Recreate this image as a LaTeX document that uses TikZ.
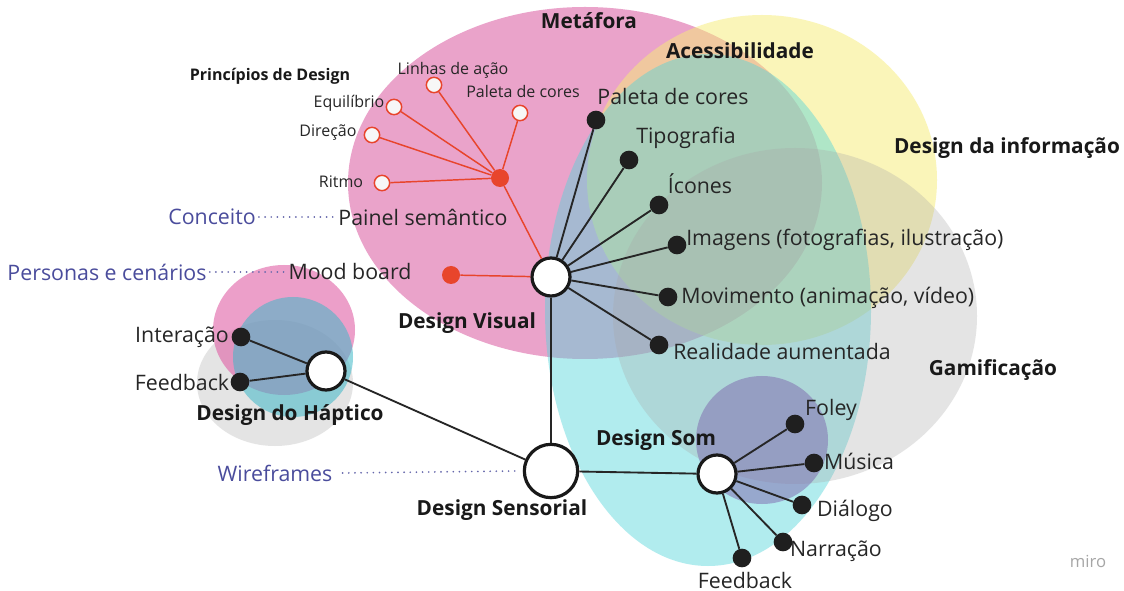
\documentclass[tikz,border=0pt]{standalone}
\usepackage{fontspec}
\setmainfont{Open Sans}
\definecolor{redc}{HTML}{E8452C}
\definecolor{pinkc}{HTML}{DA58A0}
\definecolor{yelc}{HTML}{F7ED75}
\definecolor{cyanc}{HTML}{54D5DA}
\definecolor{grayc}{HTML}{A8A8A8}
\definecolor{purc}{HTML}{7E66AE}
\definecolor{bluet}{HTML}{4A4C9C}
\definecolor{hpink}{HTML}{E05FA5}
\definecolor{hcyan}{HTML}{3FB8C8}
\tikzset{
  hub/.style={circle, draw=black!90, line width=2.4pt, fill=white, minimum size=#1, inner sep=0pt},
  bdot/.style={circle, fill=black!88, minimum size=14pt, inner sep=0pt},
  rdot/.style={circle, fill=redc, minimum size=13.5pt, inner sep=0pt},
  wdot/.style={circle, draw=redc, line width=1.1pt, fill=gray!6, minimum size=11.5pt, inner sep=0pt},
  lbl/.style={font=\fontsize{16}{19}\selectfont, text=black!85, inner sep=0pt},
  slbl/.style={font=\fontsize{12}{14}\selectfont, text=black!85, inner sep=0pt},
  blbl/.style={font=\fontsize{15.6}{18}\selectfont\bfseries, text=black!90, inner sep=0pt},
  sblbl/.style={font=\fontsize{12}{14}\selectfont\bfseries, text=black!90, inner sep=0pt},
  bluel/.style={font=\fontsize{16}{19}\selectfont, text=bluet, inner sep=0pt},
  bline/.style={draw=black!85, line width=1.4pt},
  rline/.style={draw=redc, line width=1.1pt},
  dotl/.style={draw=bluet!85, line width=1.4pt, line cap=round, dash pattern=on 0.01pt off 4.6pt},
}
\begin{document}
\begin{tikzpicture}[x=0.75pt,y=-0.75pt]
\useasboundingbox (0,0) rectangle (1124,591);
\fill[white] (0,0) rectangle (1124,591);
% big cluster blobs
\fill[pinkc, opacity=0.55] (585,183) ellipse [x radius=237, y radius=176];
\fill[yelc, opacity=0.5] (762,180) ellipse [x radius=175, y radius=165];
\fill[cyanc, opacity=0.45] (708,310) ellipse [x radius=163, y radius=256];
\fill[grayc, opacity=0.3] (795,316) ellipse [x radius=182, y radius=168];
\fill[purc, opacity=0.5] (762,440) ellipse [x radius=66, y radius=64];
% haptic blobs
\fill[grayc, opacity=0.3] (275,383) ellipse [x radius=78, y radius=63];
\fill[hpink, opacity=0.6] (284,330) ellipse [x radius=71, y radius=65];
\fill[hcyan, opacity=0.55] (293,357) circle [radius=60];

% hubs
\node[hub=28.5pt] (dv) at (551,277) {};
\node[hub=40pt] (ds) at (551,471) {};
\node[hub=28.5pt] (dh) at (326,371) {};
\node[hub=28.5pt] (dso) at (717,474) {};

% principles (red)
\node[rdot] (rh) at (500,178) {};
\node[rdot] (mb) at (451,275) {};
\node[wdot] (w1) at (434,85) {};
\node[wdot] (w2) at (520,113) {};
\node[wdot] (w3) at (394,107) {};
\node[wdot] (w4) at (372,135) {};
\node[wdot] (w5) at (382,183) {};
\foreach \w in {w1,w2,w3,w4,w5} \draw[rline] (rh) -- (\w);
\draw[rline] (rh) -- (dv);
\draw[rline] (mb) -- (dv);

% visual dots
\node[bdot] (v1) at (596,120) {};
\node[bdot] (v2) at (629,160) {};
\node[bdot] (v3) at (659,205) {};
\node[bdot] (v4) at (677,245) {};
\node[bdot] (v5) at (668,297) {};
\node[bdot] (v6) at (659,345) {};
\foreach \v in {v1,v2,v3,v4,v5,v6} \draw[bline] (dv) -- (\v);

% haptic dots
\node[bdot] (h1) at (241,337) {};
\node[bdot] (h2) at (240,382) {};
\draw[bline] (dh) -- (h1);
\draw[bline] (dh) -- (h2);

% sound dots
\node[bdot] (s1) at (795,424) {};
\node[bdot] (s2) at (814,463) {};
\node[bdot] (s3) at (802,505) {};
\node[bdot] (s4) at (783,542) {};
\node[bdot] (s5) at (742,558) {};
\foreach \s in {s1,s2,s3,s4,s5} \draw[bline] (dso) -- (\s);

\draw[bline] (dv) -- (ds);
\draw[bline] (dh) -- (ds);
\draw[bline] (ds) -- (dso);

% labels
\node[blbl] (tmet) at (589,21) {Metáfora};
\node[blbl] (tace) at (740,51) {Acessibilidade};
\node[blbl] (tdi) at (1007,148) {Design da informação};
\node[blbl] (tgam) at (993,370) {Gamificação};
\node[blbl] (tdv) at (467,323) {Design Visual};
\node[blbl] (tdh) at (290,415) {Design do Háptico};
\node[blbl] (tds) at (502,510) {Design Sensorial};
\node[blbl] (tdso) at (656,440) {Design Som};
\node[sblbl] (tpd) at (270,76) {Princípios de Design};

\node[slbl] (l1) at (453,70) {Linhas de ação};
\node[slbl] (l2) at (523,92) {Paleta de cores};
\node[slbl] (l3) at (349,103) {Equilíbrio};
\node[slbl] (l4) at (328,133) {Direção};
\node[slbl] (l5) at (341,182) {Ritmo};

\node[lbl] (painel) at (423,217) {Painel semântico};
\node[lbl] (mood) at (350,272) {Mood board};
\node[bluel] (conc) at (212,217) {Conceito};
\node[bluel] (pers) at (107,272) {Personas e cenários};
\node[bluel] (wire) at (275,473) {Wireframes};
\draw[dotl] (conc.east) ++(3,0) -- ([xshift=-2pt]painel.west);
\draw[dotl] (pers.east) ++(3,0) -- ([xshift=-2pt]mood.west);
\draw[dotl] (wire.east) ++(10,0) -- ([xshift=-5pt]ds.west);

\node[lbl] (tv1) at (673,97) {Paleta de cores};
\node[lbl] (tv2) at (686,138) {Tipografia};
\node[lbl] (tv3) at (700,184) {Ícones};
\node[lbl, anchor=west] (tv4) at (686,240) {Imagens (fotografias, ilustração)};
\node[lbl, anchor=west] (tv5) at (681,298) {Movimento (animação, vídeo)};
\node[lbl, anchor=west] (tv6) at (673,351) {Realidade aumentada};

\node[lbl] (th1) at (182,337) {Interação};
\node[lbl] (th2) at (182,383) {Feedback};

\node[lbl] (ts1) at (831,410) {Foley};
\node[lbl] (ts2) at (859,461) {Música};
\node[lbl] (ts3) at (855,511) {Diálogo};
\node[lbl] (ts4) at (836,551) {Narração};
\node[lbl] (ts5) at (745,580) {Feedback};

\node[font=\fontsize{12.5}{14}\selectfont, text=black!35] (miro) at (1088,561) {miro};
\end{tikzpicture}
\end{document}
